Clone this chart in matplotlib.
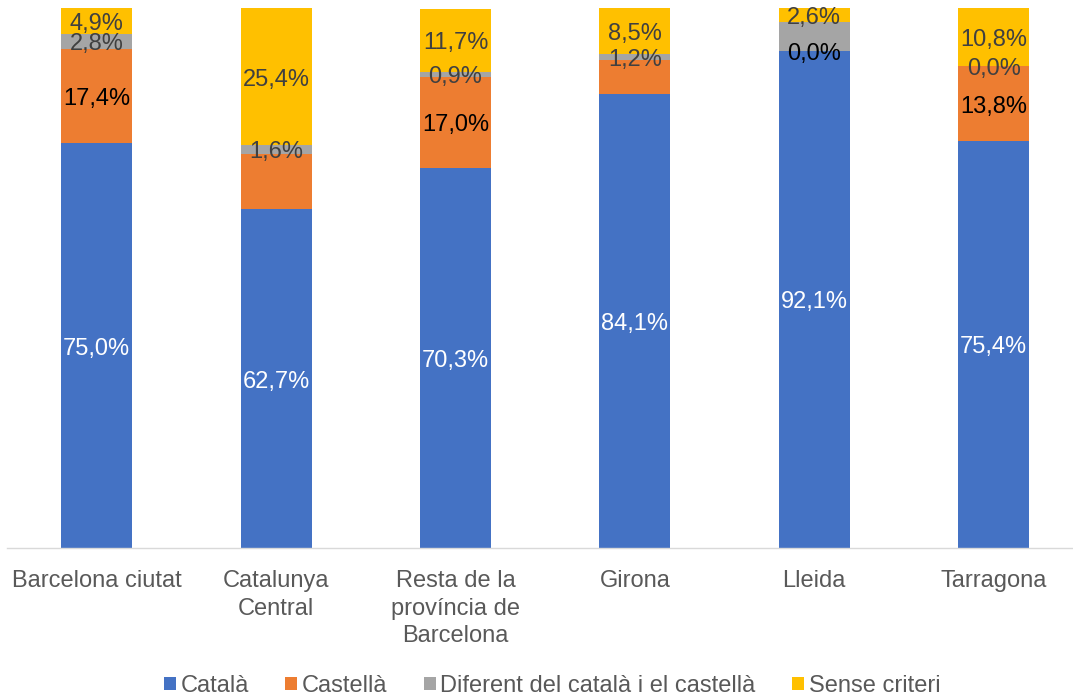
import matplotlib
matplotlib.use("Agg")
import matplotlib.pyplot as plt
import matplotlib.transforms as mtransforms
import numpy as np

plt.rcParams['font.family'] = ['Liberation Sans', 'DejaVu Sans']

categories = ["Barcelona ciutat", "Catalunya\nCentral", "Resta de la\nprovíncia de\nBarcelona",
              "Girona", "Lleida", "Tarragona"]
series_names = ["Català", "Castellà", "Diferent del català i el castellà", "Sense criteri"]
catala = [75.0, 62.7, 70.3, 84.1, 92.1, 75.4]
castella = [17.4, 10.3, 17.0, 6.2, 0.0, 13.8]
diferent = [2.8, 1.6, 0.9, 1.2, 5.3, 0.0]
sense = [4.9, 25.4, 11.7, 8.5, 2.6, 10.8]
# which labels are shown (some are hidden in the original)
show_catala = [True, True, True, True, True, True]
show_castella = [True, False, True, False, True, True]
show_diferent = [True, True, True, True, False, True]
show_sense = [True, True, True, True, True, True]

colors = ["#4472C4", "#ED7D31", "#A5A5A5", "#FFC000"]
label_colors = ["white", "black", "#404040", "#404040"]

W, H = 1073, 698
fig = plt.figure(figsize=(W / 100, H / 100), dpi=100)
ax = fig.add_axes([7 / W, 150 / H, (W - 7) / W, 540 / H])

offset = mtransforms.ScaledTranslation(0, -0.5 / 100, fig.dpi_scale_trans)
x = np.arange(len(categories))
bottom = np.zeros(len(categories))
all_series = [catala, castella, diferent, sense]
all_show = [show_catala, show_castella, show_diferent, show_sense]
for vals, col, lc, shows, name in zip(all_series, colors, label_colors, all_show, series_names):
    vals = np.array(vals)
    ax.bar(x, vals, bottom=bottom, width=0.396, color=col, label=name, zorder=2)
    for xi, b, v, s in zip(x, bottom, vals, shows):
        if s:
            ax.text(xi, b + v / 2, f"{v:.1f}%".replace(".", ","), ha="center", va="center_baseline",
                    color=lc, fontsize=17, zorder=3, transform=ax.transData + offset)
    bottom = bottom + vals

ax.set_xlim(-0.5, -0.5 + (W - 7) / 179.4)
ax.set_ylim(0, 100)
ax.set_yticks([])
ax.set_xticks(x)
ax.set_xticklabels(categories, fontsize=17, color="#595959", linespacing=1.32)
ax.tick_params(axis="x", length=0, pad=16)
for s in ["top", "right", "left"]:
    ax.spines[s].set_visible(False)
ax.spines["bottom"].set_color("#D9D9D9")
ax.spines["bottom"].set_linewidth(1.0)

leg = fig.legend(loc="center", bbox_to_anchor=(0.5145, 12 / H), ncol=4, frameon=False,
                 fontsize=17, handlelength=0.5, handleheight=0.5, handletextpad=0.2,
                 columnspacing=1.55, labelcolor="#595959")

fig.savefig("out.png", dpi=100)
